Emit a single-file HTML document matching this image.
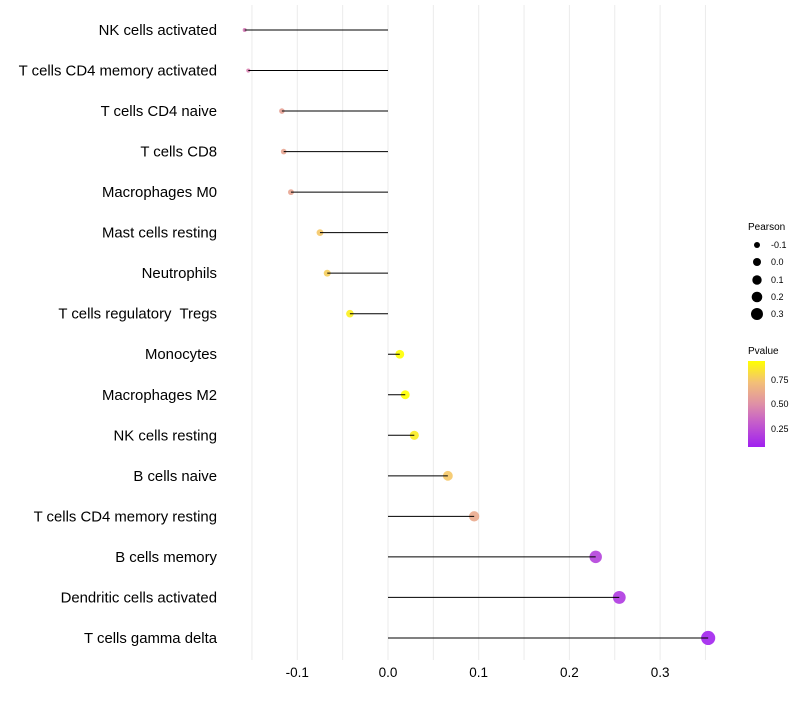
<!DOCTYPE html>
<html><head><meta charset="utf-8"><style>
body{margin:0;background:#fff;font-family:"Liberation Sans",Arial,sans-serif;}
</style></head><body>
<svg id="chart" width="800" height="700" xmlns="http://www.w3.org/2000/svg">
<defs><linearGradient id="pg" x1="0" y1="1" x2="0" y2="0">
<stop offset="0" stop-color="#a020f0"/><stop offset="0.3" stop-color="#c761c8"/><stop offset="0.5" stop-color="#df90a6"/><stop offset="0.75" stop-color="#f3bf78"/><stop offset="1" stop-color="#ffff00"/></linearGradient></defs>
<g id="grid"></g><g id="marks"></g><g id="labels"></g>
<g font-size="9" fill="#000">
<text x="748" y="230" font-size="10">Pearson</text>
<circle cx="757" cy="245" r="3"/><text x="771" y="248">-0.1</text>
<circle cx="757" cy="262" r="4"/><text x="771" y="265">0.0</text>
<circle cx="757" cy="280" r="4.7"/><text x="771" y="283">0.1</text>
<circle cx="757" cy="297" r="5.3"/><text x="771" y="300">0.2</text>
<circle cx="757" cy="314" r="6"/><text x="771" y="317">0.3</text>
</g>
<g font-size="9">
<text x="748" y="354" font-size="10">Pvalue</text>
<rect x="748" y="361" width="17" height="86" fill="url(#pg)"/>
<text x="771" y="383">0.75</text><text x="771" y="407">0.50</text><text x="771" y="432">0.25</text>
</g>
</svg>
<script>
const cats=["NK cells activated","T cells CD4 memory activated","T cells CD4 naive","T cells CD8","Macrophages M0","Mast cells resting","Neutrophils","T cells regulatory  Tregs","Monocytes","Macrophages M2","NK cells resting","B cells naive","T cells CD4 memory resting","B cells memory","Dendritic cells activated","T cells gamma delta"];
const pearson=[-0.158,-0.154,-0.117,-0.115,-0.107,-0.075,-0.067,-0.042,0.013,0.019,0.029,0.066,0.095,0.229,0.255,0.353];
const pvalue=[0.42,0.45,0.58,0.6,0.6,0.75,0.77,0.88,0.95,0.93,0.87,0.75,0.62,0.2,0.17,0.08];
const xTicks=[-0.1,0,0.1,0.2,0.3];
const xTickLabels=["-0.1","0.0","0.1","0.2","0.3"];
const NS="http://www.w3.org/2000/svg";
const xs=v=>388+v*907;
const ys=i=>30+i*40.53;
const rs=v=>Math.sqrt(4+90*(v+0.158));
function lerp(a,b,t){return a.map((x,i)=>Math.round(x+(b[i]-x)*t));}
const stops=[[0.07,[160,32,240]],[0.33,[199,97,200]],[0.5,[223,144,166]],[0.72,[243,191,120]],[0.93,[255,255,0]]];
function col(p){if(p<=stops[0][0])return `rgb(${stops[0][1]})`;for(let i=1;i<stops.length;i++){if(p<=stops[i][0]){const t=(p-stops[i-1][0])/(stops[i][0]-stops[i-1][0]);return `rgb(${lerp(stops[i-1][1],stops[i][1],t)})`;}}return 'rgb(255,255,0)';}
function mk(tag,attrs,parent){const e=document.createElementNS(NS,tag);for(const k in attrs)e.setAttribute(k,attrs[k]);parent.appendChild(e);return e;}
const grid=document.getElementById('grid'),marks=document.getElementById('marks'),labels=document.getElementById('labels');
for(let v=-0.15;v<=0.351;v+=0.05){const g=mk('line',{x1:xs(v),x2:xs(v),y1:5,y2:660,stroke:'#ebebeb','stroke-width':1},grid);

}
xTicks.forEach((v,i)=>{const t=mk('text',{x:xs(v),y:677,'text-anchor':'middle','font-size':13.5,fill:'#000'},labels);t.textContent=xTickLabels[i];

});
cats.forEach((c,i)=>{const y=ys(i);
const p=mk('circle',{cx:xs(pearson[i]),cy:y,r:rs(pearson[i]),fill:col(pvalue[i]),'fill-opacity':0.9},marks);


const l=mk('line',{x1:xs(0),x2:xs(pearson[i]),y1:y,y2:y,stroke:'#000','stroke-width':1},marks);


const t=mk('text',{x:217,y:y+5,'text-anchor':'end','font-size':14.9,fill:'#000',style:'white-space:pre'},labels);t.textContent=c;

});
</script>
</body></html>
